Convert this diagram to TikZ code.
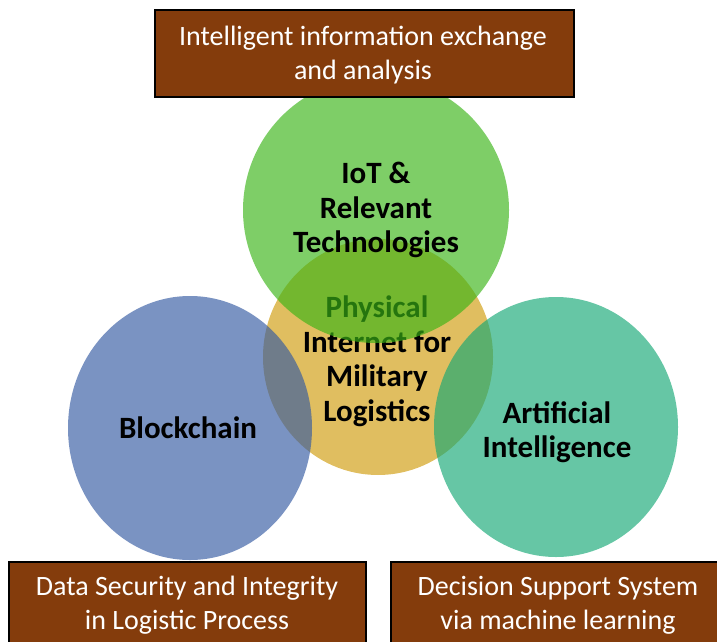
\documentclass[tikz,border=0pt]{standalone}
\usepackage{fontspec}
\setmainfont{Carlito}
\usetikzlibrary{shapes.geometric}
\definecolor{boxbrown}{RGB}{132,60,12}
\definecolor{cyellow}{RGB}{224,190,96}
\definecolor{cgreen}{RGB}{57,180,22}
\definecolor{cblue}{RGB}{51,89,162}
\definecolor{cteal}{RGB}{20,168,117}
\tikzset{
  circ/.style={ellipse, inner sep=0pt, fill opacity=0.65, text opacity=1, align=center,
    font=\bfseries\fontsize{31}{34.5}\selectfont, text=black},
  infobox/.style={rectangle, draw=black, line width=1.5pt, fill=boxbrown, text=white,
    align=center, inner sep=0pt, font=\fontsize{28}{34}\selectfont},
}
\begin{document}
\begin{tikzpicture}[x=1pt,y=-1pt]
\useasboundingbox (0,0) rectangle (717,642);
\clip (0,0) rectangle (717,642);
% central circle (beneath)
\node[circ, fill=cyellow, fill opacity=1, minimum width=230pt, minimum height=236pt] (pi) at (378,357) {};
\node[font=\bfseries\fontsize{31}{34.5}\selectfont, align=center] (pitext) at (377,361) {Physical\\Internet for\\Military\\Logistics};
% overlapping circles
\node[circ, fill=cgreen, minimum width=266pt, minimum height=266pt] (iot) at (376,210) {};
\node[circ, fill=cblue, minimum width=244pt, minimum height=264pt] (bc) at (190,428) {};
\node[circ, fill=cteal, minimum width=244pt, minimum height=260pt] (ai) at (556,427) {};
% circle labels
\node[font=\bfseries\fontsize{31}{34.5}\selectfont, align=center] (iottext) at (376,210) {IoT \&\\Relevant\\Technologies};
\node[font=\bfseries\fontsize{31}{34.5}\selectfont] (bctext) at (188,428) {Blockchain};
\node[font=\bfseries\fontsize{31}{34.5}\selectfont, align=center] (aitext) at (557,432) {Artificial\\Intelligence};
% boxes
\node[infobox, minimum width=419pt, minimum height=87pt] (top) at (364.5,53.5) {};
\node[text=white, align=center, font=\fontsize{28}{34}\selectfont] (toptext) at (363,55) {Intelligent information exchange\\and analysis};
\node[infobox, minimum width=357pt, minimum height=86pt] (bl) at (187.5,605) {};
\node[text=white, align=center, font=\fontsize{28}{34}\selectfont] (bltext) at (187,605) {Data Security and Integrity\\in Logistic Process};
\node[infobox, minimum width=340pt, minimum height=86pt] (br) at (561,605) {};
\node[text=white, align=center, font=\fontsize{28}{34}\selectfont] (brtext) at (558,605) {Decision Support System\\via machine learning};
\end{tikzpicture}
\end{document}
